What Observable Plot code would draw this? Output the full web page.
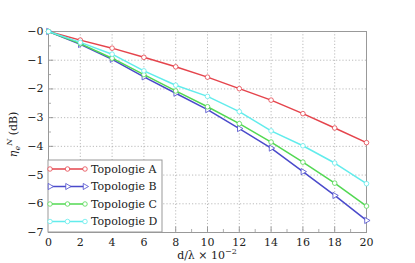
<!DOCTYPE html>
<html><head><meta charset="utf-8">
<script src="https://cdn.jsdelivr.net/npm/d3@7"></script>
<script src="https://cdn.jsdelivr.net/npm/@observablehq/plot@0.6"></script>
<style>body{margin:0;background:#fff}</style>
</head><body><div id="chart"></div>
<script>
const xs = [0, 2, 4, 6, 8, 10, 12, 14, 16, 18, 20];
const topoA = [0, -0.30, -0.58, -0.90, -1.23, -1.59, -1.99, -2.39, -2.86, -3.36, -3.87];
const topoB = [0, -0.45, -0.97, -1.58, -2.15, -2.72, -3.38, -4.06, -4.88, -5.71, -6.58];
const topoC = [0, -0.42, -0.93, -1.50, -2.07, -2.62, -3.21, -3.85, -4.55, -5.28, -6.08];
const topoD = [0, -0.38, -0.79, -1.37, -1.87, -2.26, -2.79, -3.46, -3.98, -4.58, -5.30];
const seriesNames = ["Topologie A", "Topologie B", "Topologie C", "Topologie D"];
const seriesColors = ["#e5444c", "#4a4acb", "#52d852", "#62ecec"];
const seriesSymbols = ["circle", "triangle", "circle", "circle"];
const xTicks = [0, 2, 4, 6, 8, 10, 12, 14, 16, 18, 20];
const yTicks = [0, -1, -2, -3, -4, -5, -6, -7];
const xMinor = [1, 3, 5, 7, 9, 11, 13, 15, 17, 19];
const yMinor = [-0.5, -1.5, -2.5, -3.5, -4.5, -5.5, -6.5];

const all = [topoA, topoB, topoC, topoD];
const data = [];
all.forEach((vals, i) => vals.forEach((v, j) => data.push({x: xs[j], y: v, s: seriesNames[i]})));

const font = "DejaVu Serif";
const W = 415, H = 263;
const tickLenX = 3 / 28.7, tickLenY = 3 / 15.9;

const marks = [
  Plot.ruleX(xTicks, {stroke: "#aaa", strokeDasharray: "1.2,2", strokeWidth: 0.8}),
  Plot.ruleY(yTicks, {stroke: "#aaa", strokeDasharray: "1.2,2", strokeWidth: 0.8}),
  Plot.ruleX(xTicks, {x: d => d, y1: -7, y2: -7 + 1.8 * tickLenX, stroke: "#777", strokeWidth: 0.7}),
  Plot.ruleX(xMinor, {x: d => d, y1: -7, y2: -7 + tickLenX, stroke: "#777", strokeWidth: 0.6}),
  Plot.ruleY(yTicks, {y: d => d, x1: 0, x2: 1.8 * tickLenY, stroke: "#777", strokeWidth: 0.7}),
  Plot.ruleY(yMinor, {y: d => d, x1: 0, x2: tickLenY, stroke: "#777", strokeWidth: 0.6}),
  Plot.frame({stroke: "#999", strokeWidth: 1}),
];
all.forEach((vals, i) => {
  const d = data.filter(e => e.s === seriesNames[i]);
  marks.push(Plot.line(d, {x: "x", y: "y", stroke: seriesColors[i], strokeWidth: 1.5}));
  marks.push(Plot.dot(d, {x: "x", y: "y", stroke: seriesColors[i], fill: "white", r: 2.3, strokeWidth: 0.8, symbol: seriesSymbols[i], rotate: seriesSymbols[i] === "triangle" ? 90 : 0}));
});
marks.push(Plot.axisX(xTicks, {tickSize: 0, tickPadding: 6, fontSize: 11, label: null}));
marks.push(Plot.axisY(yTicks, {tickSize: 0, tickPadding: 5, fontSize: 11, label: null, tickFormat: d => "\u2212" + Math.abs(d)}));

const plot = Plot.plot({
  width: W, height: H,
  marginLeft: 48, marginRight: 49, marginTop: 31, marginBottom: 31,
  style: {fontFamily: font, fontSize: "11px", color: "#222", background: "white"},
  x: {domain: [0, 20]},
  y: {domain: [-7, 0]},
  marks
});
document.getElementById("chart").appendChild(plot);

const svg = d3.select(plot);
const sx = plot.scale("x"), sy = plot.scale("y");

const yl = svg.append("text")
  .attr("transform", `translate(${sx.apply(0) - 31},${sy.apply(-3.6)}) rotate(-90)`)
  .attr("text-anchor", "middle").attr("font-family", font).attr("font-size", 11).attr("fill", "#222");
yl.append("tspan").attr("font-style", "italic").text("η");
yl.append("tspan").attr("font-style", "italic").attr("font-size", 8).attr("dy", 3).text("e");
yl.append("tspan").attr("font-style", "italic").attr("font-size", 8).attr("dy", -8).text("N");
yl.append("tspan").attr("dy", 5).text(" (dB)");

const xl = svg.append("text")
  .attr("x", (sx.apply(0) + sx.apply(20)) / 2).attr("y", H - 4)
  .attr("text-anchor", "middle").attr("font-family", font).attr("font-size", 11).attr("fill", "#222");
xl.append("tspan").text("d/λ × 10");
xl.append("tspan").attr("font-size", 8).attr("dy", -5).text("−2");

const lx = sx.apply(0), ly = sy.apply(-7);
const g = svg.append("g").attr("font-family", font).attr("font-size", 11).attr("text-anchor", "start");
g.append("rect").attr("x", lx).attr("y", ly - 72).attr("width", 114).attr("height", 72)
  .attr("fill", "white").attr("stroke", "#999").attr("stroke-width", 1);
seriesNames.forEach((n, i) => {
  const cy = ly - 63 + i * 17.5;
  g.append("line").attr("x1", lx + 2).attr("x2", lx + 37).attr("y1", cy).attr("y2", cy)
    .attr("stroke", seriesColors[i]).attr("stroke-width", 1.5);
  [lx + 2, lx + 19.5, lx + 37].forEach(px => {
    const sym = d3.symbol(seriesSymbols[i] === "triangle" ? d3.symbolTriangle : d3.symbolCircle, 16)();
    g.append("path").attr("d", sym)
      .attr("transform", `translate(${px},${cy}) rotate(${seriesSymbols[i] === "triangle" ? 90 : 0})`)
      .attr("fill", "white").attr("stroke", seriesColors[i]).attr("stroke-width", 0.8);
  });
  g.append("text").attr("x", lx + 43).attr("y", cy).attr("dy", "0.35em").attr("text-anchor", "start").attr("fill", "#222").text(n);
});
</script></body></html>
